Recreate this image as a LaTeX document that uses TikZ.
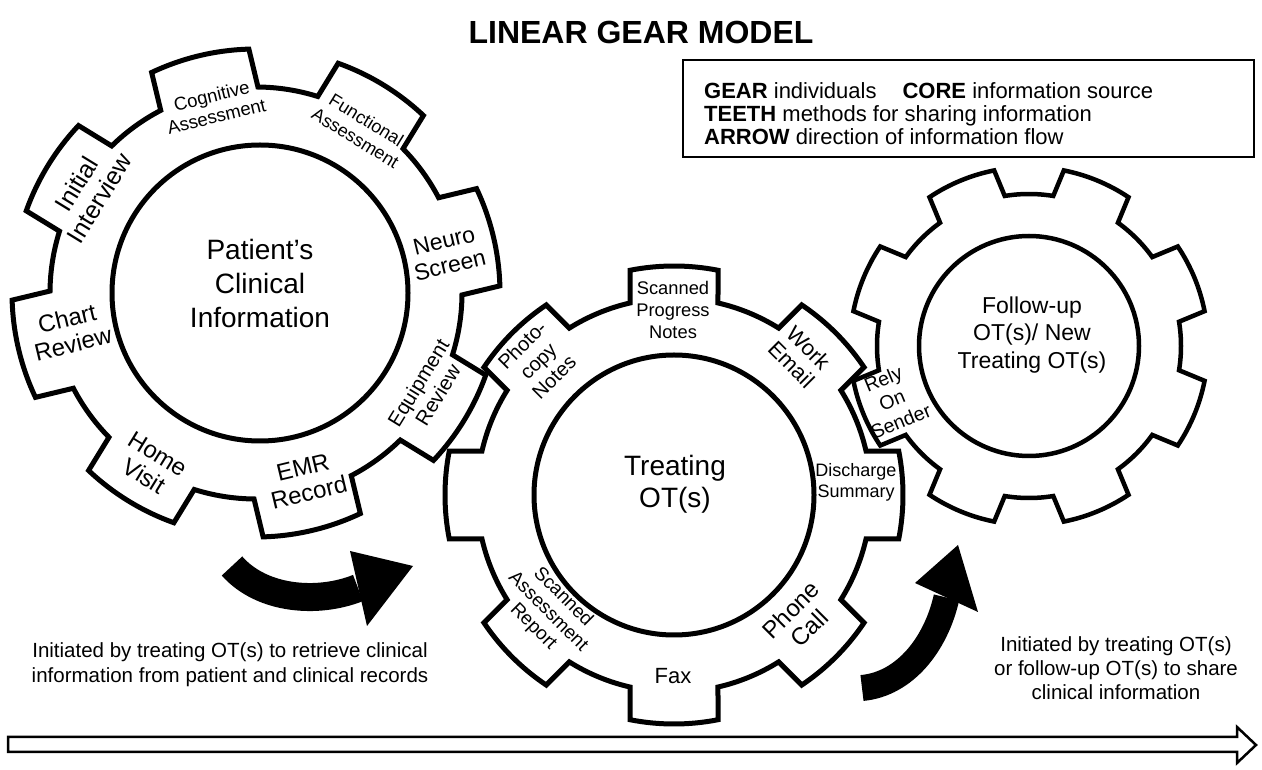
\documentclass[tikz,border=0pt]{standalone}
\usepackage{fontspec}
\setmainfont{Liberation Sans}
\usetikzlibrary{calc}

% Gear outline: #1 centre, #2 root radius, #3 tip radius,
% #4 half width of a tooth, #5 angle of the first tooth, #6 line width
\newcommand{\GearOutline}[6]{%
  \begin{scope}[shift={#1}]
    \pgfmathsetmacro\gRootHalf{asin(#4/#2)}
    \pgfmathsetmacro\gTipHalf{asin(#4/#3)}
    \draw[line width=#6, line join=miter]
      (#5-\gRootHalf:#2)
      \foreach \k [evaluate=\k as \ta using {#5+45*\k-\gTipHalf},
                   evaluate=\k as \tb using {#5+45*\k+\gTipHalf},
                   evaluate=\k as \ra using {#5+45*\k+\gRootHalf},
                   evaluate=\k as \rb using {#5+45*\k+45-\gRootHalf}] in {0,...,7} {
        -- (\ta:#3) arc[start angle=\ta, end angle=\tb, radius=#3]
        -- (\ra:#2) arc[start angle=\ra, end angle=\rb, radius=#2]
      } -- cycle;
  \end{scope}}

\begin{document}
\begin{tikzpicture}[x=1pt, y=1pt,
  txt/.style 2 args={font=\fontsize{#1}{#2}\selectfont},
  lbl/.style={align=center, inner sep=0pt},
  legendline/.style={anchor=base west, inner sep=0pt, font=\fontsize{22}{23}\selectfont},
  core/.style={draw, circle, line width=5pt, inner sep=0pt},
  flow/.style={line width=#1, line cap=butt},
]
\useasboundingbox (0,0) rectangle (1262,769);

% ---------- title ----------
\node[lbl, txt={32}{36}] (title) at (641,737) {\bfseries LINEAR GEAR MODEL};

% ---------- legend ----------
\draw[line width=2.2pt] (683,612) rectangle (1254,709);
\node[legendline] (leg1) at (704,670)
  {\textbf{GEAR} individuals\hspace{26pt}\textbf{CORE} information source};
\node[legendline] (leg2) at (704,647)
  {\textbf{TEETH} methods for sharing information};
\node[legendline] (leg3) at (704,624)
  {\textbf{ARROW} direction of information flow};

% ---------- gear outlines ----------
\GearOutline{(256,476)}{206}{244}{50}{13.5}{5pt}
\GearOutline{(674,274)}{197}{229}{44}{0}{5pt}
\GearOutline{(1029,423)}{152}{179}{35}{22.5}{4.5pt}

% ---------- cores ----------
\node[core, minimum size=296pt] (core1) at (260,476) {};
\node[core, minimum size=280pt] (core2) at (674,274) {};
\node[core, minimum size=220pt, line width=4.5pt] (core3) at (1029,423) {};

\node[lbl, txt={28}{34}] (patient) at (260,486) {Patient’s\\Clinical\\Information};
\node[lbl, txt={28}{32}] (treating) at (675,285) {Treating\\OT(s)};
\node[lbl, txt={23}{27.5}] (followup) at (1032,434) {Follow-up\\OT(s)/ New\\Treating OT(s)};

% ---------- teeth of the first gear ----------
\node[lbl, txt={18.5}{21}, rotate=13.5]  (cog)   at (214,663) {Cognitive\\Assessment};
\node[lbl, txt={18}{21},   rotate=-31.5] (func)  at (361,640) {Functional\\Assessment};
\node[lbl, txt={23}{25},   rotate=13.5]  (neuro) at (447,516) {Neuro\\Screen};
\node[lbl, txt={20.5}{23}, rotate=58.5]  (equip) at (428,380) {Equipment\\Review};
\node[lbl, txt={24}{26},   rotate=13.5]  (emr)   at (306,289) {EMR\\Record};
\node[lbl, txt={24}{26},   rotate=-31.5] (home)  at (151,304) {Home\\Visit};
\node[lbl, txt={24}{26},   rotate=13.5]  (chart) at (70,438)  {Chart\\Review};
\node[lbl, txt={25}{27},   rotate=58.5]  (init)  at (88,578)  {Initial\\Interview};

% ---------- teeth of the second gear ----------
\node[lbl, txt={18.3}{21.7}]            (spn)   at (673,459) {Scanned\\Progress\\Notes};
\node[lbl, txt={22}{24},   rotate=-45]  (work)  at (800,413) {Work\\Email};
\node[lbl, txt={18}{21}]                (dis)   at (856,287) {Discharge\\Summary};
\node[lbl, txt={24}{26},   rotate=45]   (phone) at (800,150) {Phone\\Call};
\node[lbl, txt={22}{24}]                (fax)   at (673,93)  {Fax};
\node[lbl, txt={19}{21},   rotate=-45]  (sar)   at (548,157) {Scanned\\Assessment\\Report};
\node[lbl, txt={20}{22.5}, rotate=45]   (photo) at (538,408) {Photo-\\copy\\Notes};

% ---------- tooth of the third gear ----------
\node[lbl, txt={19.5}{23}, rotate=22.5] (rely)  at (892,369) {Rely\\On\\Sender};

% ---------- curved flow arrows ----------
\coordinate (a1s) at (232,203);
\coordinate (a1e) at (358,181);
\coordinate (a1p) at (350,218);
\coordinate (a1q) at (367,143);
\coordinate (a1t) at (413,203);
\draw[flow=28pt] (a1s) .. controls (262,169) and (318,165) .. (a1e);
\fill (a1p) -- (a1t) -- (a1q) -- cycle;

\coordinate (a2s) at (862,81);
\coordinate (a2e) at (946.5,171.5);
\coordinate (a2p) at (915,186);
\coordinate (a2q) at (978,157);
\coordinate (a2t) at (958,224);
\draw[flow=26pt] (a2s) .. controls (905,85) and (936,125) .. (a2e);
\fill (a2p) -- (a2t) -- (a2q) -- cycle;

% ---------- captions ----------
\node[lbl, txt={20.5}{25}] (capleft) at (230,104)
  {Initiated by treating OT(s) to retrieve clinical\\information from patient and clinical records};
\node[lbl, txt={20.5}{24}] (capright) at (1116,101)
  {Initiated by treating OT(s)\\or follow-up OT(s) to share\\clinical information};

% ---------- timeline arrow ----------
\coordinate (tl0) at (8,32);
\coordinate (tl1) at (1237,32);
\coordinate (tl2) at (1237,42);
\coordinate (tl3) at (1256,24);
\coordinate (tl4) at (1237,6);
\coordinate (tl5) at (1237,17);
\coordinate (tl6) at (8,17);
\draw[line width=2.5pt, line join=miter] (tl0) -- (tl1) -- (tl2) -- (tl3) -- (tl4) -- (tl5) -- (tl6) -- cycle;

\end{tikzpicture}
\end{document}
